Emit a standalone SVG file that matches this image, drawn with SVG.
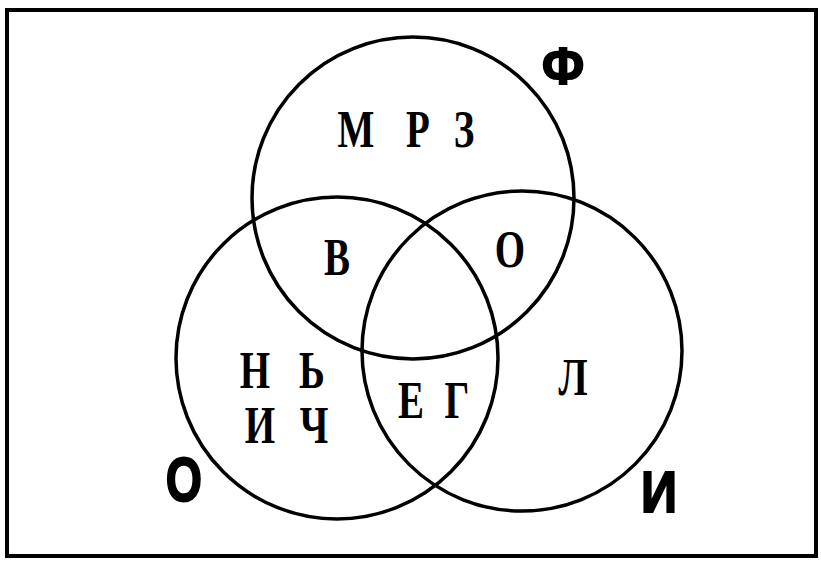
<svg xmlns="http://www.w3.org/2000/svg" width="821" height="561" viewBox="0 0 821 561">
<style>
.ring{fill:none;stroke:#000;stroke-width:3.5}
.frame{fill:none;stroke:#000;stroke-width:4}
.s{font-family:"Liberation Serif","Times New Roman",serif;font-weight:bold;font-size:52px;fill:#000;text-anchor:middle}
.b{font-family:"Liberation Sans",Arial,sans-serif;font-weight:bold;fill:#000;stroke:#000;stroke-width:2;text-anchor:middle}
</style>
<rect x="0" y="0" width="821" height="561" fill="#fff"/>
<rect class="frame" x="7" y="10" width="809" height="546"/>
<g id="sets">
<g id="set-f"><circle class="ring" cx="413" cy="198" r="161"/>
<text class="b" font-size="52" transform="translate(563 84) scale(0.95 1)">Ф</text></g>
<g id="set-o"><circle class="ring" cx="337" cy="358" r="161"/>
<text class="b" font-size="63" transform="translate(184 501) scale(0.74 1)">О</text></g>
<g id="set-i"><circle class="ring" cx="522" cy="351" r="160"/>
<text class="b" font-size="57" transform="translate(659 512) scale(0.88 1)">И</text></g>
</g>
<g id="labels">
<text class="s" transform="translate(356 147) scale(0.75 1)">М</text>
<text class="s" transform="translate(418 147) scale(0.75 1)">Р</text>
<text class="s" transform="translate(464 147) scale(0.75 1)">З</text>
<text class="s" transform="translate(337 275) scale(0.75 1)">В</text>
<text class="s" transform="translate(510 267) scale(0.75 1)">О</text>
<text class="s" transform="translate(255 388) scale(0.75 1)">Н</text>
<text class="s" transform="translate(312 388) scale(0.75 1)">Ь</text>
<text class="s" transform="translate(260 443) scale(0.75 1)">И</text>
<text class="s" transform="translate(314 443) scale(0.75 1)">Ч</text>
<text class="s" transform="translate(411 418) scale(0.75 1)">Е</text>
<text class="s" transform="translate(457 418) scale(0.75 1)">Г</text>
<text class="s" transform="translate(573 395) scale(0.75 1)">Л</text>
</g>
<g id="connectors"/>
</svg>
